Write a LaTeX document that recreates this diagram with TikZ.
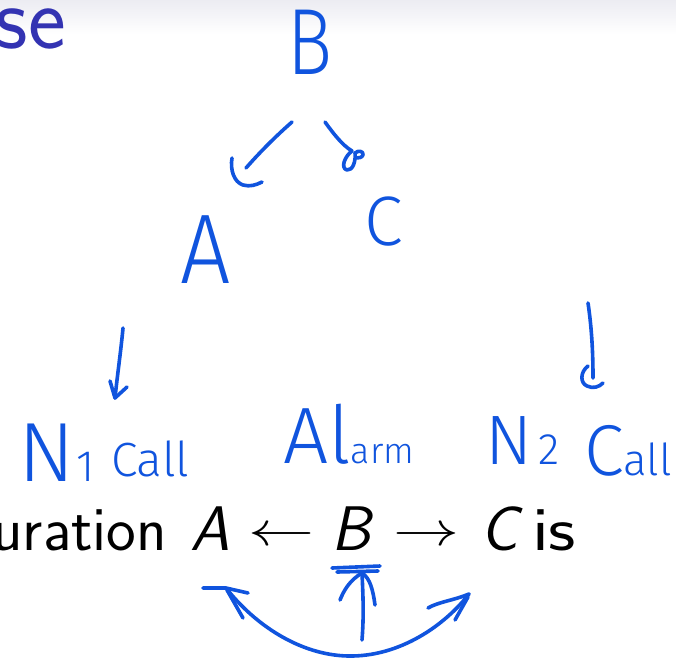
\documentclass[tikz,border=0pt]{standalone}
\usepackage{fontspec}
\usepackage{graphicx}
\newfontfamily\hand{Fira Sans Light}
\definecolor{ink}{RGB}{16,84,222}
\definecolor{struct}{RGB}{51,51,178}
\definecolor{band}{RGB}{236,236,242}
\newcommand{\slidefont}{\sffamily\fontsize{63}{76}\selectfont}
\begin{document}
\begin{tikzpicture}[x=1pt,y=-1pt,
  hw/.style={draw=ink,line width=3.6pt,line cap=round,line join=round},
  lbl/.style={text=ink,inner sep=0pt,outer sep=0pt},
  sl/.style={inner sep=0pt,outer sep=0pt,text=black}]
\useasboundingbox (0,0) rectangle (676,659);
\fill[white] (0,0) rectangle (676,659);
\shade[top color=band,bottom color=white] (0,0) rectangle (676,34);
% slide text
\node[anchor=base east,text=struct,inner sep=0pt] (title) at (66,48)
  {\sffamily\fontsize{90}{90}\selectfont se};
\node[sl,anchor=base east] (word) at (167,550) {\slidefont uration};
\node[sl,anchor=base west] (mA) at (190,550) {\slidefont\textit{A}};
\node[sl,anchor=base west] (larr) at (248,545) {\scalebox{6.6}[4.8]{$\leftarrow$}};
\node[sl,anchor=base west] (mB) at (331,550) {\slidefont\textit{B}};
\node[sl,anchor=base west] (rarr) at (393,545) {\scalebox{6.6}[4.8]{$\rightarrow$}};
\node[sl,anchor=base west] (mC) at (480,550) {\slidefont\textit{C}};
\node[sl,anchor=base west] (is) at (532,550) {\slidefont\scalebox{1.2}[1]{is}};
% handwritten labels
\node[lbl,anchor=base] (hB) at (310,74) {\hand\fontsize{94}{94}\selectfont\scalebox{0.8}[1]{B}};
\node[lbl,anchor=base] (hA) at (206,283) {\hand\fontsize{99}{99}\selectfont\scalebox{0.9}[1]{A}};
\node[lbl,anchor=base] (hC) at (384,245) {\hand\fontsize{70}{70}\selectfont C};
\node[lbl,anchor=base west] (n1) at (18,481) {\hand{\fontsize{84}{84}\selectfont N}\hspace{2pt}{\fontsize{44}{44}\selectfont 1}};
\node[lbl,anchor=base west] (call1) at (111,476) {\hand\fontsize{48}{48}\selectfont Call};
\node[lbl,anchor=base west] (alarm) at (283,463) {\hand{\fontsize{80}{80}\selectfont Al}{\fontsize{36}{36}\selectfont arm}};
\node[lbl,anchor=base west] (n2) at (485,464) {\hand{\fontsize{70}{70}\selectfont N}\hspace{6pt}{\fontsize{44}{44}\selectfont 2}};
\node[lbl,anchor=base west] (call2) at (584,475) {\hand{\fontsize{72}{72}\selectfont C}{\fontsize{44}{44}\selectfont all}};
% arrow end points
\coordinate (baS) at (292,122); \coordinate (baE) at (246,168);
\coordinate (baH1) at (232,158); \coordinate (baH2) at (262,182);
\coordinate (bcS) at (325,122); \coordinate (bcE) at (352,151);
\coordinate (a1S) at (123,328); \coordinate (a1E) at (115,398);
\coordinate (a1L) at (110,381); \coordinate (a1R) at (127,387);
\coordinate (c2S) at (588,303); \coordinate (c2E) at (593,378);
\coordinate (c2L) at (588,366); \coordinate (c2R) at (603,383);
\coordinate (uL) at (226,588); \coordinate (uR) at (469,594); \coordinate (uM) at (348,656);
\coordinate (vS) at (362,640); \coordinate (vE) at (362,573);
% B -> A
\draw[hw] (baS) .. controls (276,136) and (260,152) .. (baE);
\draw[hw] (baH1) .. controls (230,170) and (234,182) .. (243,185) .. controls (250,187) and (256,185) .. (baH2);
% B -> C
\draw[hw] (bcS) .. controls (333,133) and (342,145) .. (bcE);
\draw[hw] (bcE) .. controls (345,156) and (340,168) .. (347,170) .. controls (353,171) and (356,160) .. (355,153)
  .. controls (358,150) and (364,151) .. (363,155) .. controls (362,158) and (358,158) .. (355,158);
% A -> N1 Call
\draw[hw] (a1S) .. controls (121,350) and (117,378) .. (a1E);
\draw[hw] (a1L) -- (a1E) -- (a1R);
% C -> N2 Call
\draw[hw] (c2S) .. controls (592,330) and (593,355) .. (c2E);
\draw[hw] (c2L) .. controls (580,372) and (580,383) .. (587,386) .. controls (593,389) and (599,387) .. (c2R);
% bottom double arrow
\draw[hw] (uL) .. controls (255,625) and (300,655) .. (uM) .. controls (400,657) and (445,625) .. (uR);
\draw[hw] (203,588) -- (uL) -- (248,593);
\draw[hw] (227,590) -- (243,618);
\draw[hw] (428,608) .. controls (438,602) and (455,600) .. (uR);
\draw[hw] (468,597) -- (455,620);
% vertical arrow
\draw[hw] (vS) .. controls (364,615) and (363,595) .. (vE);
\draw[hw] (375,605) .. controls (373,590) and (370,578) .. (vE);
\draw[hw] (340,600) .. controls (344,590) and (350,580) .. (vE);
\draw[hw] (332,568) -- (380,566);
\draw[hw] (337,572) -- (378,571);
\end{tikzpicture}
\end{document}
